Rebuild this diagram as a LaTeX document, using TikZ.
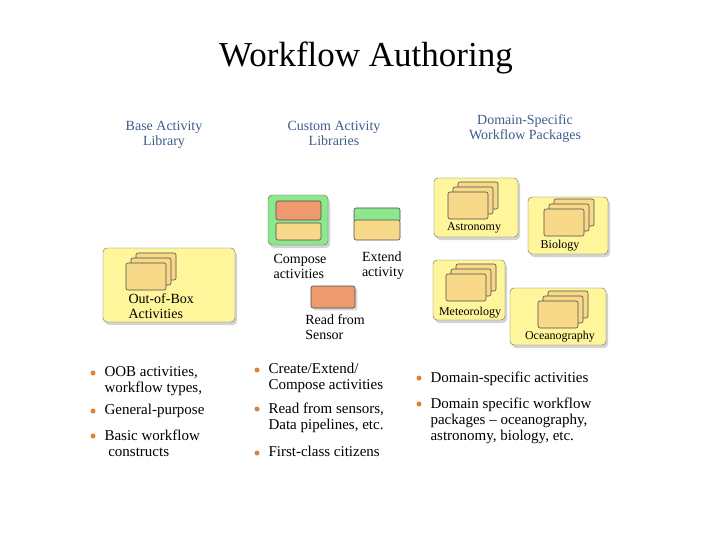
\documentclass[tikz,border=0pt]{standalone}
\usepackage{fontspec}
\setmainfont{Liberation Serif}
\usetikzlibrary{shadows}
\definecolor{pkgyellow}{HTML}{FFF59A}
\definecolor{cardyellow}{HTML}{F8D98A}
\definecolor{cardorange}{HTML}{EE9A6E}
\definecolor{cardgreen}{HTML}{8CE88C}
\definecolor{headblue}{HTML}{3E5B8C}
\definecolor{dotorange}{HTML}{D9823A}
\tikzset{
  pkg/.style={draw=black!60,fill=pkgyellow,rounded corners=4pt,drop shadow={opacity=.35,shadow xshift=2pt,shadow yshift=-3pt}},
  card/.style={draw=black!70,rounded corners=2pt,line width=.6pt},
  head/.style={align=center,text=headblue,font=\fontsize{14}{15}\selectfont},
  lbl/.style={align=left,font=\fontsize{14}{15}\selectfont},
  small/.style={font=\fontsize{12}{13}\selectfont},
  bul/.style={align=left,anchor=north west,font=\fontsize{15}{16}\selectfont},
  dot/.style={circle,fill=dotorange,inner sep=0pt,minimum size=5pt}
}
\newcommand\cardstack[2]{% top-left corner of the stack x, y
  \foreach \d in {10,5,0}{
    \draw[card,fill=cardyellow] (#1+\d,#2+10-\d) rectangle (#1+\d+40,#2+10-\d+27);
  }}
\begin{document}
\begin{tikzpicture}[x=1pt,y=-1pt]
\useasboundingbox (0,0) rectangle (720,540);

\node (title) at (366,58) {\fontsize{35}{37}\selectfont Workflow Authoring};

\node[head] (hbase) at (164,135) {Base Activity\\Library};
\node[head] (hcustom) at (334,133) {Custom Activity\\Libraries};
\node[head] (hdomain) at (525,129) {Domain-Specific\\Workflow Packages};

% base library
\draw[pkg] (103,248) rectangle (235,322);
\cardstack{126}{253}
\node[lbl,anchor=north west] (oob) at (125,290) {Out-of-Box\\Activities};

% custom libraries
\draw[pkg,fill=cardgreen] (268,195) rectangle (328,245);
\draw[card,fill=cardorange] (276,201) rectangle (321,220);
\draw[card,fill=cardyellow] (276,223) rectangle (321,240);
\node[lbl] (compose) at (300,266) {Compose\\activities};
\draw[card,fill=cardgreen] (354,208) rectangle (400,222);
\draw[card,fill=cardyellow] (354,220) rectangle (400,240);
\node[lbl] (extend) at (383,266) {Extend\\activity};
\draw[card,fill=cardorange,drop shadow={opacity=.3}] (311,286) rectangle (355,308);
\node[lbl] (sensor) at (335,327) {Read from\\Sensor};

% domain packages
\draw[pkg] (434,178) rectangle (518,237);
\cardstack{448}{182}
\node[small] (astro) at (474,228) {Astronomy};
\draw[pkg] (528,197) rectangle (608,254);
\cardstack{544}{199}
\node[small] (bio) at (560,246) {Biology};
\draw[pkg] (433,260) rectangle (505,320);
\cardstack{446}{264}
\node[small] (meteo) at (470,313) {Meteorology};
\draw[pkg] (510,288) rectangle (606,345);
\cardstack{538}{291}
\node[small] (ocean) at (560,337) {Oceanography};

% bullets
\foreach \x/\y/\t in {93/366/{OOB activities,\\workflow types,},
                      93/404/{General-purpose},
                      93/429/{Basic workflow\\\ constructs},
                      257/363/{Create/Extend/\\Compose activities},
                      257/402/{Read from sensors,\\Data pipelines, etc.},
                      257/446/{First-class citizens},
                      419/371/{Domain-specific activities},
                      419/397/{Domain specific workflow\\packages -- oceanography,\\astronomy, biology, etc.}}{
  \node[dot] at (\x,\y+7) {};
  \node[bul] at (\x+8,\y-3) {\t};
}
\end{tikzpicture}
\end{document}
